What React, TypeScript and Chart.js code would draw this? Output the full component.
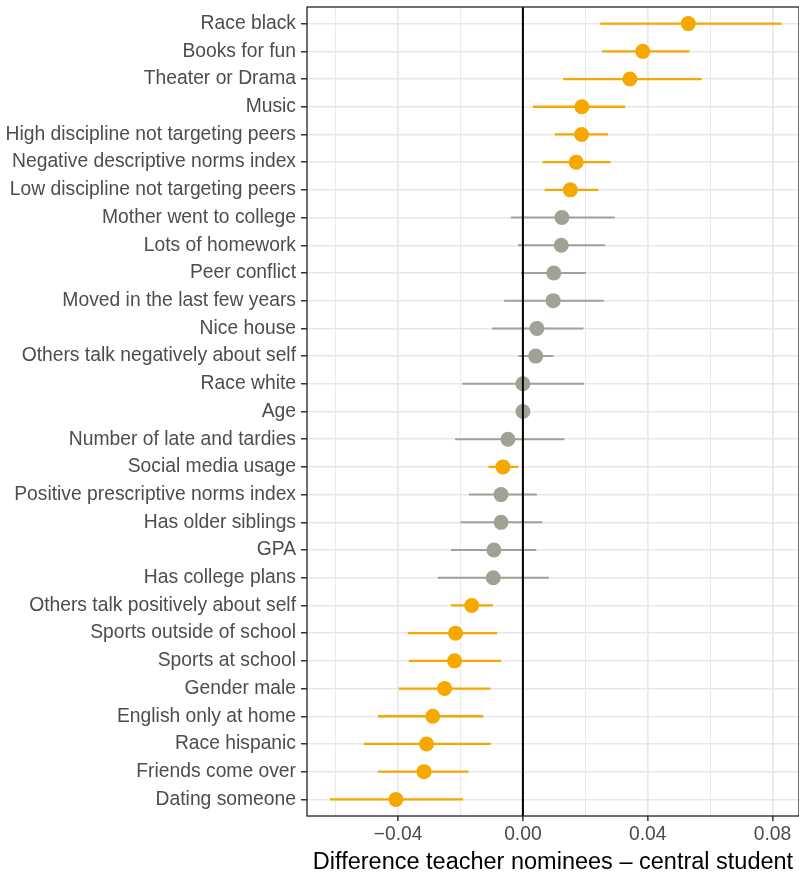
import React, { useEffect, useRef } from 'react';
import { Chart, registerables } from 'chart.js';

Chart.register(...registerables);

const labels = [
  'Race black',
  'Books for fun',
  'Theater or Drama',
  'Music',
  'High discipline not targeting peers',
  'Negative descriptive norms index',
  'Low discipline not targeting peers',
  'Mother went to college',
  'Lots of homework',
  'Peer conflict',
  'Moved in the last few years',
  'Nice house',
  'Others talk negatively about self',
  'Race white',
  'Age',
  'Number of late and tardies',
  'Social media usage',
  'Positive prescriptive norms index',
  'Has older siblings',
  'GPA',
  'Has college plans',
  'Others talk positively about self',
  'Sports outside of school',
  'Sports at school',
  'Gender male',
  'English only at home',
  'Race hispanic',
  'Friends come over',
  'Dating someone',
];

const estimates = [
  0.053, 0.0384, 0.0343, 0.0189, 0.0188, 0.0171, 0.0152, 0.0125, 0.0123, 0.0099,
  0.0097, 0.0045, 0.0041, 0.0, 0.0, -0.0048, -0.0064, -0.007, -0.007, -0.0093,
  -0.0095, -0.0164, -0.0216, -0.0219, -0.0251, -0.0289, -0.0309, -0.0317, -0.0407,
];

const lower = [
  0.0248, 0.0253, 0.0129, 0.0032, 0.0102, 0.0063, 0.007, -0.0039, -0.0016, -0.0006,
  -0.006, -0.0099, -0.0014, -0.0194, -0.0005, -0.0217, -0.011, -0.0173, -0.02, -0.023,
  -0.0273, -0.0231, -0.0369, -0.0365, -0.0398, -0.0465, -0.051, -0.0465, -0.0619,
];

const upper = [
  0.0829, 0.0534, 0.0573, 0.0328, 0.0273, 0.0281, 0.0242, 0.0294, 0.0264, 0.0202,
  0.0259, 0.0194, 0.0098, 0.0196, 0.0005, 0.0133, -0.0015, 0.0045, 0.0062, 0.0043,
  0.0083, -0.0096, -0.0082, -0.007, -0.0104, -0.0127, -0.0103, -0.0174, -0.0192,
];

const xTickValues = [-0.06, -0.04, -0.02, 0, 0.02, 0.04, 0.06, 0.08];
const xMin = -0.0692;
const xMax = 0.0885;
const xTitle = 'Difference teacher nominees \u2013 central student';

const ORANGE = '#F6A800';
const GREY = '#A1A196';
const FONT = "'Liberation Sans', Arial, Helvetica, sans-serif";

const isSig = (i: number) => lower[i] > 0 || upper[i] < 0;
const isMajor = (v: number) => Math.abs(v / 0.04 - Math.round(v / 0.04)) < 1e-6;
const fmt = (v: number) => {
  const s = (Math.abs(v) < 1e-9 ? 0 : v).toFixed(2);
  return s.replace('-', '\u2212');
};

function ciData(sig: boolean) {
  const out: any[] = [];
  labels.forEach((_, i) => {
    if (isSig(i) !== sig) return;
    out.push({ x: lower[i], y: i });
    out.push({ x: upper[i], y: i });
    out.push({ x: upper[i], y: null });
  });
  return out;
}

function pointData(sig: boolean) {
  const out: any[] = [];
  labels.forEach((_, i) => {
    if (isSig(i) !== sig) return;
    out.push({ x: estimates[i], y: i });
  });
  return out;
}

const framePlugin = {
  id: 'frameAndZero',
  afterDatasetsDraw(chart: any) {
    const { ctx, chartArea, scales } = chart;
    const x0 = scales.x.getPixelForValue(0);
    ctx.save();
    ctx.strokeStyle = '#000';
    ctx.lineWidth = 2;
    ctx.beginPath();
    ctx.moveTo(x0, chartArea.top);
    ctx.lineTo(x0, chartArea.bottom);
    ctx.stroke();
    ctx.strokeStyle = '#222';
    ctx.lineWidth = 1.3;
    ctx.strokeRect(chartArea.left, chartArea.top, chartArea.right - chartArea.left, chartArea.bottom - chartArea.top);
    ctx.restore();
  },
};

export default function App() {
  const ref = useRef<HTMLCanvasElement | null>(null);

  useEffect(() => {
    if (!ref.current) return;
    const chart = new Chart(ref.current, {
      type: 'line',
      data: {
        datasets: [
          {
            data: pointData(true),
            showLine: false,
            pointRadius: 7.5,
            pointBorderWidth: 0,
            pointBackgroundColor: ORANGE,
            backgroundColor: ORANGE,
            borderColor: ORANGE,
            order: 0,
          },
          {
            data: pointData(false),
            showLine: false,
            pointRadius: 7.5,
            pointBorderWidth: 0,
            pointBackgroundColor: GREY,
            backgroundColor: GREY,
            borderColor: GREY,
            order: 0,
          },
          {
            data: ciData(true),
            borderColor: ORANGE,
            borderWidth: 2.3,
            pointRadius: 0,
            spanGaps: false,
            tension: 0,
            order: 2,
          },
          {
            data: ciData(false),
            borderColor: GREY,
            borderWidth: 2,
            pointRadius: 0,
            spanGaps: false,
            tension: 0,
            order: 2,
          },
        ] as any,
      },
      options: {
        animation: false,
        responsive: false,
        devicePixelRatio: 1,
        layout: { autoPadding: false, padding: { top: 7, right: 0, left: 0, bottom: 0 } },
        plugins: {
          legend: { display: false },
          tooltip: { enabled: false },
        },
        scales: {
          x: {
            type: 'linear',
            min: xMin,
            max: xMax,
            afterBuildTicks: (s: any) => {
              s.ticks = xTickValues.map((v) => ({ value: v }));
            },
            afterFit: (s: any) => {
              s.height = 56;
              s.paddingLeft = 0;
              s.paddingRight = 0;
            },
            ticks: {
              callback: (v: any) => (isMajor(Number(v)) ? fmt(Number(v)) : ''),
              font: { family: FONT, size: 19.3 },
              color: '#4d4d4d',
              padding: 2,
              maxRotation: 0,
              autoSkip: false,
            },
            grid: {
              color: '#e8e8e8',
              lineWidth: (c: any) => (c.tick && isMajor(c.tick.value) ? 1.7 : 0.9),
              tickLength: 5,
              tickColor: (c: any) => (c.tick && isMajor(c.tick.value) ? '#333' : 'rgba(0,0,0,0)'),
              tickWidth: 1.5,
            },
            border: { display: false },
            title: {
              display: true,
              text: xTitle,
              font: { family: FONT, size: 23.5 },
              color: '#000',
              padding: { top: 0, bottom: -4.5 },
            },
          },
          y: {
            type: 'linear',
            reverse: true,
            min: -0.6,
            max: labels.length - 1 + 0.6,
            afterBuildTicks: (s: any) => {
              s.ticks = labels.map((_, i) => ({ value: i }));
            },
            afterFit: (s: any) => {
              s.width = 307;
              s.paddingTop = 0;
              s.paddingBottom = 0;
            },
            ticks: {
              callback: (v: any) => labels[Number(v)] ?? '',
              font: { family: FONT, size: 19.3 },
              color: '#4d4d4d',
              padding: 5,
              autoSkip: false,
            },
            grid: {
              color: '#e8e8e8',
              lineWidth: 1.5,
              tickLength: 6,
              tickColor: '#333',
              tickWidth: 1.5,
            },
            border: { display: false },
          },
        } as any,
      },
      plugins: [framePlugin],
    });
    return () => chart.destroy();
  }, []);

  return (
    <div style={{ position: 'fixed', left: 0, top: 0, width: 799, height: 872, background: '#fff' }}>
      <canvas ref={ref} width={799} height={872} style={{ display: 'block' }} />
    </div>
  );
}
